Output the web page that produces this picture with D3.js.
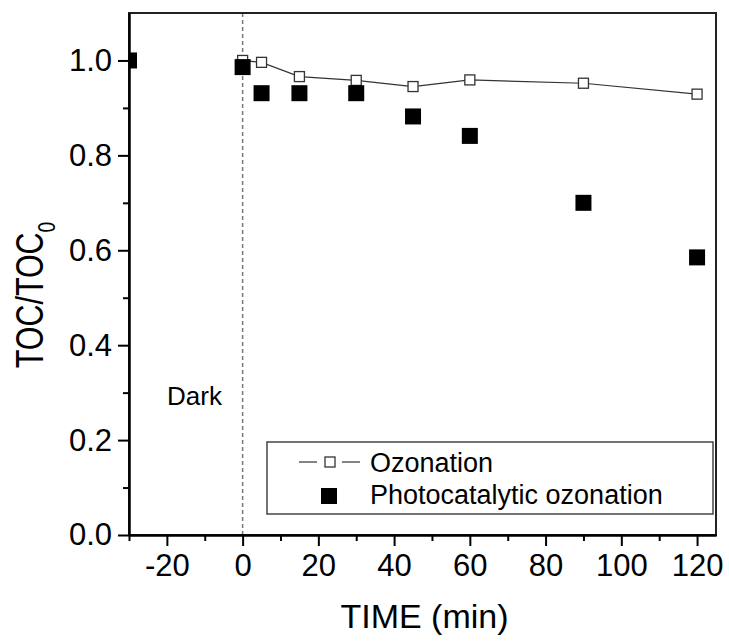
<!DOCTYPE html>
<html>
<head>
<meta charset="utf-8">
<script src="https://cdnjs.cloudflare.com/ajax/libs/d3/7.8.5/d3.min.js"></script>
<style>
  body { margin: 0; background: #fff; }
  svg text { font-family: "Liberation Sans", Arial, sans-serif; fill: #000; }
</style>
</head>
<body>
<script>
// data
const timeOzon = [0, 5, 15, 30, 45, 60, 90, 120];
const tocOzon = [1.0, 0.996, 0.966, 0.958, 0.945, 0.959, 0.952, 0.929];
const timePhoto = [-30, 0, 5, 15, 30, 45, 60, 90, 120];
const tocPhoto = [1.0, 0.986, 0.931, 0.931, 0.931, 0.882, 0.841, 0.70, 0.585];
const xMajor = [-20, 0, 20, 40, 60, 80, 100, 120];
const xMinor = [-30, -10, 10, 30, 50, 70, 90, 110];
const yMajor = [0, 0.2, 0.4, 0.6, 0.8, 1.0];
const yMinor = [0.1, 0.3, 0.5, 0.7, 0.9];
const legendNames = ["Ozonation", "Photocatalytic ozonation"];

const w = 729, h = 641;
const pLeft = 129, pRight = 716, pTop = 13, pBottom = 535;

const x = d3.scaleLinear().domain([-30, 125]).range([pLeft, pRight]);
const y = d3.scaleLinear().domain([0, 1.1]).range([pBottom, pTop]);

const svg = d3.select("body").append("svg")
  .attr("width", w).attr("height", h);

svg.append("defs").append("clipPath").attr("id", "plot")
  .append("rect").attr("x", pLeft).attr("y", pTop)
  .attr("width", pRight - pLeft).attr("height", pBottom - pTop);

// dark region marker
svg.append("line")
  .attr("x1", x(0)).attr("x2", x(0))
  .attr("y1", pTop).attr("y2", pBottom)
  .attr("stroke", "#777").attr("stroke-width", 1.5)
  .attr("stroke-dasharray", "4,3");

svg.append("text")
  .attr("x", 167).attr("y", 405)
  .attr("font-size", 26)
  .text("Dark");

// frame
svg.append("rect")
  .attr("x", pLeft).attr("y", pTop)
  .attr("width", pRight - pLeft).attr("height", pBottom - pTop)
  .attr("fill", "none").attr("stroke", "#222").attr("stroke-width", 2);

// axes
svg.append("g")
  .attr("transform", "translate(0," + pBottom + ")")
  .call(d3.axisBottom(x).tickValues(xMajor).tickSize(11).tickPadding(8)
    .tickFormat(d => String(d)).tickSizeOuter(0));
svg.append("g")
  .attr("transform", "translate(0," + pBottom + ")")
  .call(d3.axisBottom(x).tickValues(xMinor).tickSize(6).tickFormat("").tickSizeOuter(0));

svg.append("g")
  .attr("transform", "translate(" + pLeft + ",0)")
  .call(d3.axisLeft(y).tickValues(yMajor).tickSize(11).tickPadding(6)
    .tickFormat(d3.format(".1f")).tickSizeOuter(0));
svg.append("g")
  .attr("transform", "translate(" + pLeft + ",0)")
  .call(d3.axisLeft(y).tickValues(yMinor).tickSize(6).tickFormat("").tickSizeOuter(0));

svg.selectAll(".domain").attr("stroke", "#000").attr("stroke-width", 2);
svg.selectAll(".tick line").attr("stroke", "#000").attr("stroke-width", 2);
svg.selectAll(".tick text").attr("font-size", 31)
  .attr("font-family", "Liberation Sans, Arial, sans-serif");

// axis titles
svg.append("text")
  .attr("x", (pLeft + pRight) / 2 + 2).attr("y", 628)
  .attr("text-anchor", "middle")
  .attr("font-size", 34)
  .text("TIME (min)");

// the y title is narrow in the original
const yt = svg.append("text")
  .attr("transform", "translate(43,295) rotate(-90) scale(0.8,1)")
  .attr("text-anchor", "middle")
  .attr("font-size", 38);
yt.append("tspan").text("TOC/TOC");
yt.append("tspan").attr("font-size", 24).attr("dy", 12).text("0");

const ozon = timeOzon.map((t, i) => ({ t: t, v: tocOzon[i] }));
const photo = timePhoto.map((t, i) => ({ t: t, v: tocPhoto[i] }));

const g = svg.append("g").attr("clip-path", "url(#plot)");

// ozonation series
g.append("path")
  .datum(ozon)
  .attr("fill", "none").attr("stroke", "#333").attr("stroke-width", 1.2)
  .attr("d", d3.line().x(d => x(d.t)).y(d => y(d.v)));

g.selectAll(".open").data(ozon).enter().append("rect")
  .attr("class", "open")
  .attr("x", d => x(d.t) - 5).attr("y", d => y(d.v) - 5)
  .attr("width", 10).attr("height", 10)
  .attr("fill", "#fff").attr("stroke", "#333").attr("stroke-width", 1.3);

// photocatalytic series
g.selectAll(".filled").data(photo).enter().append("rect")
  .attr("class", "filled")
  .attr("x", d => x(d.t) - 8).attr("y", d => y(d.v) - 8)
  .attr("width", 16).attr("height", 16)
  .attr("fill", "#000");

// legend
const lg = svg.append("g");
lg.append("rect")
  .attr("x", 267).attr("y", 442).attr("width", 446).attr("height", 72)
  .attr("fill", "#fff").attr("stroke", "#444").attr("stroke-width", 1.5);
lg.append("line").attr("x1", 299).attr("x2", 317).attr("y1", 462).attr("y2", 462)
  .attr("stroke", "#333").attr("stroke-width", 1.2);
lg.append("line").attr("x1", 342).attr("x2", 360).attr("y1", 462).attr("y2", 462)
  .attr("stroke", "#333").attr("stroke-width", 1.2);
lg.append("rect").attr("x", 325).attr("y", 457).attr("width", 10).attr("height", 10)
  .attr("fill", "#fff").attr("stroke", "#333").attr("stroke-width", 1.3);
lg.append("rect").attr("x", 321).attr("y", 488).attr("width", 16).attr("height", 16)
  .attr("fill", "#000");
lg.selectAll(".lt").data(legendNames).enter().append("text")
  .attr("class", "lt")
  .attr("x", 370).attr("y", (d, i) => 472 + i * 32)
  .attr("font-size", 27)
  .text(d => d);
</script>
</body>
</html>
